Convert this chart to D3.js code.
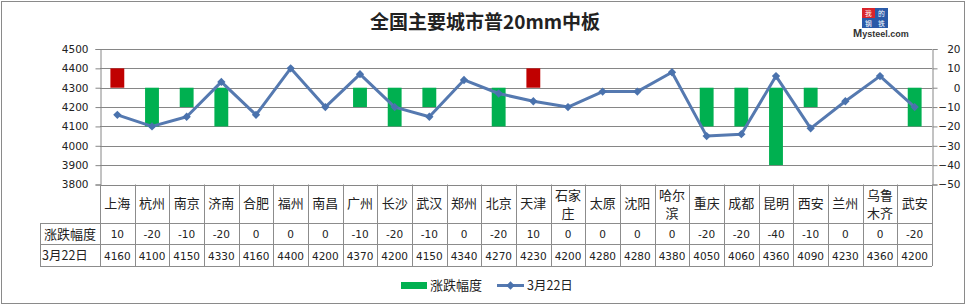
<!DOCTYPE html>
<html>
<head>
<meta charset="utf-8">
<script src="https://cdn.jsdelivr.net/npm/d3@7/dist/d3.min.js"></script>
<style>
  html, body { margin: 0; padding: 0; background: #fff; }
  svg { display: block; }
</style>
</head>
<body>
<div id="chart"></div>
<script>
const WIDTH = 972;
const HEIGHT = 305;

// data
const cities = ['上海', '杭州', '南京', '济南', '合肥', '福州', '南昌', '广州', '长沙', '武汉', '郑州', '北京',
  '天津', '石家庄', '太原', '沈阳', '哈尔滨', '重庆', '成都', '昆明', '西安', '兰州', '乌鲁木齐', '武安'];
const change = [10, -20, -10, -20, 0, 0, 0, -10, -20, -10, 0, -20, 10, 0, 0, 0, 0, -20, -20, -40, -10, 0, 0, -20];
const price = [4160, 4100, 4150, 4330, 4160, 4400, 4200, 4370, 4200, 4150, 4340, 4270, 4230, 4200, 4280, 4280,
  4380, 4050, 4060, 4360, 4090, 4230, 4360, 4200];
const leftTicks = [3800, 3900, 4000, 4100, 4200, 4300, 4400, 4500];
const rightTicks = [-50, -40, -30, -20, -10, 0, 10, 20];
const cityLines = { '石家庄': ['石家', '庄'], '哈尔滨': ['哈尔', '滨'], '乌鲁木齐': ['乌鲁', '木齐'] };

const CJK = '"Noto Sans CJK SC", sans-serif';
const NUM = '"DejaVu Sans", sans-serif';
const GRID = '#868686';
const BORDER = '#8c8c8c';

const plot = { left: 100, right: 932, top: 49, bottom: 184.5 };
const table = { labelLeft: 40, row1: 223, row2: 244, row3: 266 };

const svg = d3.select('#chart').append('svg')
  .attr('width', WIDTH)
  .attr('height', HEIGHT);

// outer frame
svg.append('rect')
  .attr('x', 1.5).attr('y', 1.5)
  .attr('width', 963).attr('height', 302)
  .attr('fill', '#fff')
  .attr('stroke', '#8a8a8a');

const x = d3.scaleBand().domain(cities).range([plot.left, plot.right]);
const yL = d3.scaleLinear().domain([3800, 4500]).range([plot.bottom, plot.top]);
const yR = d3.scaleLinear().domain([-50, 20]).range([plot.bottom, plot.top]);

// title
svg.append('text')
  .attr('x', 485).attr('y', 29)
  .attr('text-anchor', 'middle')
  .attr('font-family', CJK)
  .attr('font-weight', 'bold')
  .attr('font-size', 19)
  .attr('fill', '#222')
  .text('全国主要城市普20mm中板');

// logo
const logo = svg.append('g').attr('transform', 'translate(862,8)');
logo.append('rect').attr('x', 0).attr('y', 0).attr('width', 13).attr('height', 10).attr('fill', '#d9242b');
logo.append('rect').attr('x', 13).attr('y', 0).attr('width', 13).attr('height', 10).attr('fill', '#2a5aa8');
logo.append('rect').attr('x', 0).attr('y', 10).attr('width', 26).attr('height', 10).attr('fill', '#2a5aa8');
[['我', 3, 7.8], ['的', 16, 7.8], ['钢', 3, 17.8], ['铁', 16, 17.8]].forEach(([t, dx, dy]) => {
  logo.append('text').attr('x', dx).attr('y', dy)
    .attr('font-family', CJK).attr('font-size', 6.8).attr('fill', '#fff').text(t);
});
svg.append('text')
  .attr('x', 853).attr('y', 37)
  .attr('font-family', '"Liberation Sans", Arial, sans-serif')
  .attr('font-weight', 'bold')
  .attr('font-size', 9)
  .attr('fill', '#333')
  .html('<tspan font-size="11">M</tspan>ysteel.com');

// gridlines
svg.append('g')
  .selectAll('line')
  .data(leftTicks)
  .join('line')
  .attr('x1', plot.left).attr('x2', plot.right)
  .attr('y1', d => Math.round(yL(d)) + 0.5).attr('y2', d => Math.round(yL(d)) + 0.5)
  .attr('stroke', GRID);

// axes
const axL = svg.append('g')
  .attr('transform', `translate(${plot.left + 0.5},0)`)
  .call(d3.axisLeft(yL).tickValues(leftTicks).tickSize(5).tickPadding(7).tickFormat(d3.format('d')));
const axR = svg.append('g')
  .attr('transform', `translate(${plot.right + 0.5},0)`)
  .call(d3.axisRight(yR).tickValues(rightTicks).tickSize(5).tickPadding(7).tickFormat(d3.format('d')));
[axL, axR].forEach(ax => {
  ax.select('.domain').attr('stroke', GRID);
  ax.selectAll('.tick line').attr('stroke', GRID);
  ax.selectAll('.tick text').attr('font-family', NUM).attr('font-size', 10.5).attr('fill', '#222');
});
axR.selectAll('.tick text').attr('text-anchor', 'end').attr('dx', 16);

// bars
const barW = x.bandwidth() * 0.4;
svg.append('g')
  .selectAll('rect')
  .data(cities.map((c, i) => ({ c, v: change[i] })).filter(d => d.v !== 0))
  .join('rect')
  .attr('x', d => x(d.c) + (x.bandwidth() - barW) / 2)
  .attr('y', d => yR(Math.max(0, d.v)))
  .attr('width', barW)
  .attr('height', d => Math.abs(yR(d.v) - yR(0)))
  .attr('fill', d => (d.v > 0 ? '#c00000' : '#00b050'));

// line
const pts = cities.map((c, i) => ({ c, v: price[i] }));
const cx = d => x(d.c) + x.bandwidth() / 2;
svg.append('path')
  .datum(pts)
  .attr('fill', 'none')
  .attr('stroke', '#5579b0')
  .attr('stroke-width', 3)
  .attr('stroke-linejoin', 'round')
  .attr('d', d3.line().x(cx).y(d => yL(d.v)));

svg.append('g')
  .selectAll('path')
  .data(pts)
  .join('path')
  .attr('transform', d => `translate(${cx(d)},${yL(d.v)})`)
  .attr('d', d3.symbol(d3.symbolDiamond2, 44))
  .attr('fill', '#4a72ad');

// data table
const tbl = svg.append('g').attr('stroke', BORDER).attr('stroke-width', 1);
const hx = v => Math.round(v) + 0.5;
[table.row1, table.row2, table.row3].forEach(r => {
  tbl.append('line').attr('x1', table.labelLeft).attr('x2', plot.right).attr('y1', hx(r)).attr('y2', hx(r));
});
tbl.selectAll('line.v')
  .data(cities.map(c => x(c)).concat([plot.right]))
  .join('line')
  .attr('class', 'v')
  .attr('x1', d => hx(d)).attr('x2', d => hx(d))
  .attr('y1', plot.bottom).attr('y2', table.row3);
tbl.append('line').attr('x1', hx(table.labelLeft)).attr('x2', hx(table.labelLeft)).attr('y1', table.row1).attr('y2', hx(table.row3));

// city labels (long names wrap onto two lines)
const cityRows = cities.flatMap(c => {
  const lines = cityLines[c] || [c];
  const y0 = lines.length === 1 ? 208 : 199.5;
  return lines.map((l, i) => ({ c, l, y: y0 + i * 18 }));
});
svg.append('g')
  .selectAll('text')
  .data(cityRows)
  .join('text')
  .attr('x', d => x(d.c) + x.bandwidth() / 2)
  .attr('y', d => d.y)
  .attr('text-anchor', 'middle')
  .attr('font-family', CJK)
  .attr('font-size', 13)
  .attr('fill', '#222')
  .text(d => d.l);

// row labels
svg.append('text').attr('x', 44).attr('y', 239)
  .attr('font-family', CJK).attr('font-size', 13).attr('fill', '#222').text('涨跌幅度');
svg.append('text').attr('x', 42).attr('y', 260)
  .attr('font-family', CJK).attr('font-size', 12.5).attr('fill', '#222').text('3月22日');

// row values
svg.append('g')
  .selectAll('text')
  .data(cities.map((c, i) => ({ c, v: change[i] })))
  .join('text')
  .attr('x', d => x(d.c) + x.bandwidth() / 2)
  .attr('y', 238)
  .attr('text-anchor', 'middle')
  .attr('font-family', NUM).attr('font-size', 10.5).attr('fill', '#222')
  .text(d => d.v);
svg.append('g')
  .selectAll('text')
  .data(pts)
  .join('text')
  .attr('x', cx)
  .attr('y', 259.5)
  .attr('text-anchor', 'middle')
  .attr('font-family', NUM).attr('font-size', 10.5).attr('fill', '#222')
  .text(d => d.v);

// legend
const lg = svg.append('g');
lg.append('rect').attr('x', 401).attr('y', 282).attr('width', 26).attr('height', 7).attr('fill', '#00b050');
lg.append('text').attr('x', 430).attr('y', 290)
  .attr('font-family', CJK).attr('font-size', 13).attr('fill', '#222').text('涨跌幅度');
lg.append('line').attr('x1', 497).attr('x2', 524).attr('y1', 285.5).attr('y2', 285.5)
  .attr('stroke', '#5579b0').attr('stroke-width', 3);
lg.append('path').attr('transform', 'translate(510.5,285.5)')
  .attr('d', d3.symbol(d3.symbolDiamond2, 44)).attr('fill', '#4a72ad');
lg.append('text').attr('x', 527).attr('y', 290)
  .attr('font-family', CJK).attr('font-size', 12.5).attr('fill', '#222').text('3月22日');
</script>
</body>
</html>
